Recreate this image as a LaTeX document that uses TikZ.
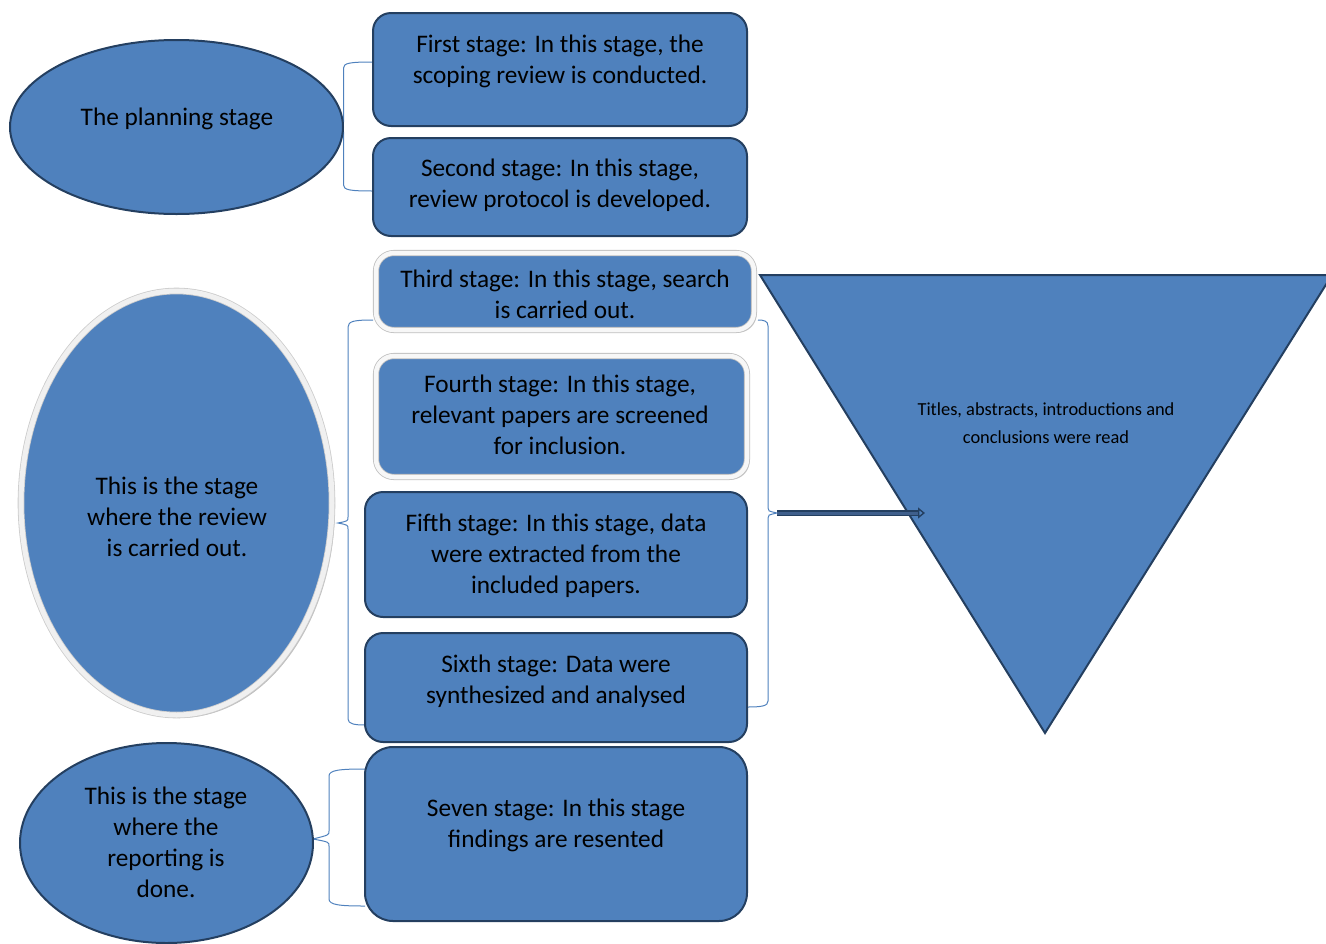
\documentclass[tikz,border=0pt]{standalone}
\usepackage{fontspec}
\setmainfont{Carlito}
\usetikzlibrary{arrows.meta,shadows,shapes.geometric}
\definecolor{stagefill}{HTML}{4F81BD}
\definecolor{stageline}{HTML}{243F60}
\definecolor{arrowfill}{HTML}{3F5F8C}

\begin{document}
\begin{tikzpicture}[x=1pt,y=-1pt,
                stagebox/.style={draw=stageline,line width=2pt,fill=stagefill,rounded corners=18pt,inner sep=0pt},
                glowbox/.style={draw=black!25,line width=0.8pt,double=white!97!black,double distance=4.5pt,
                    fill=stagefill,rounded corners=18pt,inner sep=0pt,
                    drop shadow={opacity=0.4,shadow xshift=2.5pt,shadow yshift=-2.5pt}},
                stageoval/.style={ellipse,draw=stageline,line width=2pt,fill=stagefill,inner sep=0pt},
                glowoval/.style={ellipse,draw=black!20,line width=0.8pt,double=white!94!black,double distance=5pt,
                    fill=stagefill,inner sep=0pt,
                    drop shadow={opacity=0.5,shadow xshift=3pt,shadow yshift=-3pt}},
                stagetext/.style={align=center,text=black,font=\fontsize{25.3}{31}\selectfont},
                stagebrace/.style={draw=stagefill,line width=1pt},
                readarrow/.style={draw=stageline,line width=1.4pt,double=arrowfill,double distance=3pt,
                    -{Triangle[open,length=7pt,width=11pt]}}]
                \useasboundingbox (0,0) rectangle (1326,943);

                \draw[stagebrace] (373,62) .. controls (350,62) and (343.5,63) .. (343.5,68) -- (343.5,122)
                    .. controls (343.5,126) .. (340.5,127) .. controls (343.5,128) .. (343.5,132) -- (343.5,185)
                    .. controls (343.5,190) and (350,191) .. (373,191);
                \draw[stagebrace] (373,320) .. controls (355,320) and (348,321) .. (348,327) -- (348,517)
                    .. controls (348,521) .. (338,523) .. controls (348,525) .. (348,529) -- (348,719)
                    .. controls (348,724) and (355,725) .. (365,725);
                \draw[stagebrace] (365,769) .. controls (340,769) and (329,770) .. (329,776) -- (329,831)
                    .. controls (329,835) .. (313,839) .. controls (329,842) .. (329,846) -- (329,899)
                    .. controls (329,905) and (340,906) .. (365,906);

                \coordinate (readtip) at (777,513);
                \coordinate (readend) at (925,513);
                \draw[stagebrace] (758,320) .. controls (764,320) and (768,321) .. (768,326) -- (768,508)
                    .. controls (768,511) .. (readtip) .. controls (768,515) .. (768,518) -- (768,701)
                    .. controls (768,706) and (762,707) .. (747,707);

                \node[stageoval,minimum width=333pt,minimum height=174pt] (planning) at (176.5,127) {};
                \node[glowoval,minimum width=311pt,minimum height=424pt] (review) at (176.5,503) {};
                \node[stageoval,minimum width=293pt,minimum height=200pt] (reporting) at (166.5,843) {};

                \node[stagebox,minimum width=374pt,minimum height=113pt] (first) at (560,69.5) {};
                \node[stagebox,minimum width=374pt,minimum height=98pt] (second) at (560,187) {};
                \node[glowbox,minimum width=378pt,minimum height=77pt] (third) at (565,291.5) {};
                \node[glowbox,minimum width=371pt,minimum height=121pt] (fourth) at (561.5,416.5) {};
                \node[stagebox,minimum width=382pt,minimum height=125pt] (fifth) at (556,554.5) {};
                \node[stagebox,minimum width=382pt,minimum height=109pt] (sixth) at (556,687.5) {};
                \node[stagebox,minimum width=382pt,minimum height=174pt,rounded corners=28pt] (seventh) at (556,834) {};

                \draw[draw=stageline,line width=2pt,fill=stagefill] (760,275) -- (1332,275) -- (1045,733) -- cycle;
                \draw[readarrow] (readtip) -- (readend);

                \node[stagetext] (planningtext) at (177,119) {The planning stage};
                \node[stagetext] (reviewtext) at (177,517) {This is the stage\\where the review\\is carried out.};
                \node[stagetext] (reportingtext) at (166,842) {This is the stage\\where the\\reporting is\\done.};
                \node[stagetext] (firsttext) at (560,61) {First stage: In this stage, the\\scoping review is conducted.};
                \node[stagetext] (secondtext) at (560,185) {Second stage: In this stage,\\review protocol is developed.};
                \node[stagetext] (thirdtext) at (565,294) {Third stage: In this stage, search\\is carried out.};
                \node[stagetext] (fourthtext) at (560,415) {Fourth stage: In this stage,\\relevant papers are screened\\for inclusion.};
                \node[stagetext] (fifthtext) at (556,556) {Fifth stage: In this stage, data\\were extracted from the\\included papers.};
                \node[stagetext] (sixthtext) at (556,681) {Sixth stage: Data were\\synthesized and analysed};
                \node[stagetext] (seventhtext) at (556,825) {Seven stage: In this stage\\findings are resented};
                \node[align=center,text=black,font=\fontsize{18.4}{28}\selectfont] (titles) at (1046,423)
                    {Titles, abstracts, introductions and\\conclusions were read};
\end{tikzpicture}
\end{document}
